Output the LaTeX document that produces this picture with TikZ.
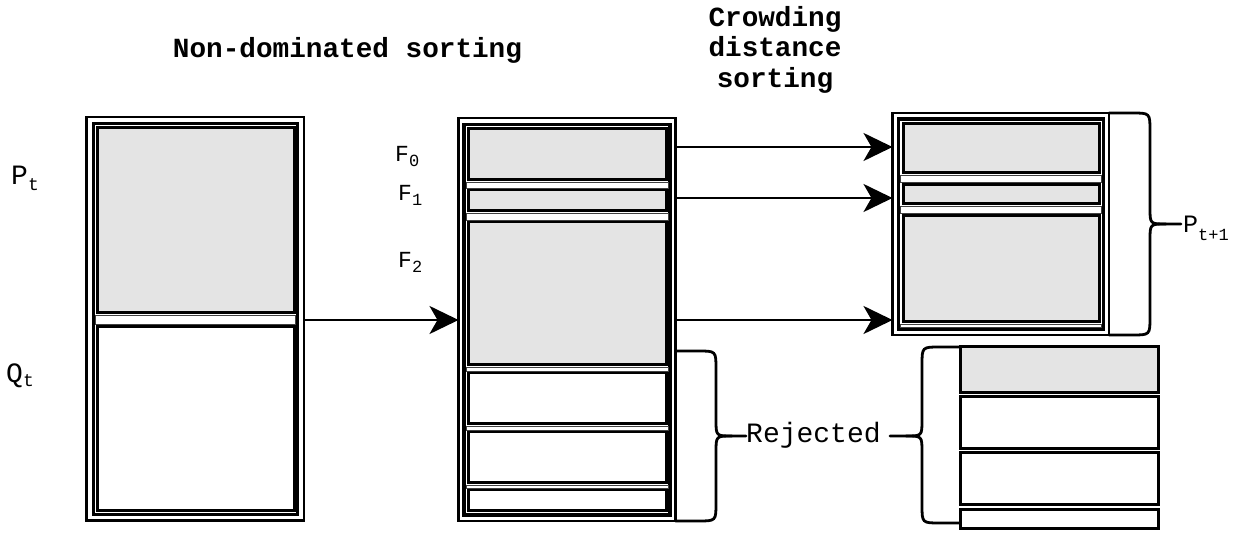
\documentclass[tikz,border=0pt]{standalone}
\usepackage{fontspec}
\setmainfont{Liberation Mono}
\usetikzlibrary{arrows.meta}
\definecolor{cellgray}{HTML}{E4E4E4}
\newcommand\rbox[6]{\node[#6, minimum width={#4-#2}, minimum height={#5-#3}] (#1) at ({(#2+#4)/2},{(#3+#5)/2}) {};}
\newcommand\sbs[3]{\raisebox{-#2pt}{\fontsize{#3}{#3}\selectfont #1}}
\begin{document}
\begin{tikzpicture}[x=1pt,y=-1pt,
  base/.style={rectangle, inner sep=0pt, outer sep=0pt},
  outerbox/.style={base, draw, line width=2.6pt},
  framebox/.style={base, draw, line width=3.5pt},
  cellg/.style={base, draw, line width=3pt, fill=cellgray},
  cellw/.style={base, draw, line width=3pt, fill=white},
  strip/.style={base, draw=gray!50!black, line width=0.8pt, fill=white},
  arr/.style={line width=2.6pt, -{Stealth[length=29pt,width=28pt,inset=8pt]}},
  brace/.style={line width=2.8pt, line cap=round},
  title/.style={font=\fontsize{27.7}{30.5}\selectfont\bfseries, inner sep=0pt, align=center},
  lbl/.style={inner sep=0pt}
]
\useasboundingbox (0,0) rectangle (1243,534);
% ---------- left column
\rbox{outerL}{86.5}{117}{304}{520.5}{outerbox}
\rbox{frameL}{93.5}{123.5}{297.5}{514.5}{framebox}
\rbox{Pcell}{97}{127.5}{294}{313}{cellg}
\rbox{sL1}{95.5}{315.5}{295.5}{324.5}{strip}
\rbox{Qcell}{97}{327}{294}{511}{cellw}
% ---------- middle column
\rbox{outerM}{458.5}{118}{675.5}{521}{outerbox}
\rbox{frameM}{464}{124.5}{670}{515}{framebox}
\rbox{F0cell}{468}{129}{666}{180}{cellg}
\rbox{F1cell}{468}{190}{666}{211}{cellg}
\rbox{F2cell}{468}{222}{666}{365}{cellg}
\rbox{W1cell}{468}{373}{666}{424}{cellw}
\rbox{W2cell}{468}{432}{666}{483}{cellw}
\rbox{W3cell}{468}{490}{666}{511}{cellw}
\rbox{sM1}{466}{182}{668}{188}{strip}
\rbox{sM2}{466}{213}{668}{220}{strip}
\rbox{sM3}{466}{367}{668}{371}{strip}
\rbox{sM4}{466}{426}{668}{430}{strip}
\rbox{sM5}{466}{485}{668}{488}{strip}
% ---------- right column (P_{t+1})
\rbox{outerR}{892.5}{113}{1109}{335}{outerbox}
\rbox{frameR}{898.5}{119}{1103.5}{329.5}{framebox}
\rbox{R1cell}{903}{123.5}{1099.5}{172.5}{cellg}
\rbox{R2cell}{903}{185}{1099.5}{204}{cellg}
\rbox{R3cell}{903}{216}{1099.5}{322}{cellg}
\rbox{sR1}{900.5}{175}{1101.5}{182}{strip}
\rbox{sR2}{900.5}{206.5}{1101.5}{213.5}{strip}
\rbox{sR3}{900.5}{324.5}{1101.5}{327}{strip}
% ---------- rejected column
\rbox{X1cell}{960}{347}{1158}{393}{cellg}
\rbox{X2cell}{960}{397}{1158}{449}{cellw}
\rbox{X3cell}{960}{453}{1158}{505}{cellw}
\rbox{X4cell}{960}{510}{1158}{528}{cellw}
% ---------- titles
\node[title, anchor=base] (t1) at (347.5,58) {Non-dominated sorting};
\node[title, anchor=north] (t2) at (775,6) {Crowding\\distance\\sorting};
% ---------- labels
\node[lbl, anchor=base west, font=\fontsize{28}{28}\selectfont] (Pt) at (11,185) {P\sbs{t}{6}{18}};
\node[lbl, anchor=base west, font=\fontsize{28}{28}\selectfont] (Qt) at (6,383) {Q\sbs{t}{4}{18}};
\node[lbl, anchor=base west, font=\fontsize{23}{23}\selectfont] (F0) at (395,162) {F\sbs{0}{5}{17}};
\node[lbl, anchor=base west, font=\fontsize{23}{23}\selectfont] (F1) at (398,201) {F\sbs{1}{5}{17}};
\node[lbl, anchor=base west, font=\fontsize{23}{23}\selectfont] (F2) at (398,268) {F\sbs{2}{5}{17}};
\node[lbl, anchor=base west, font=\fontsize{28}{28}\selectfont] (rej) at (746,443) {Rejected};
\node[lbl, anchor=base west, font=\fontsize{25}{25}\selectfont] (Pnext) at (1183,233) {P\sbs{t+1}{8}{17}};
% ---------- arrows
\draw[arr] (outerL.east |- 0,320) -- (outerM.west |- 0,320);
\draw[arr] (outerM.east |- 0,147) -- (outerR.west |- 0,147);
\draw[arr] (outerM.east |- 0,198) -- (outerR.west |- 0,198);
\draw[arr] (outerM.east |- 0,320) -- (outerR.west |- 0,320);
% ---------- braces
\coordinate (rejL) at (746,436);
\coordinate (rejR) at (890,436);
\coordinate (pnL) at (1181,224);
\draw[brace] (outerM.east |- 0,351) -- (698,351) .. controls (716,351) .. (716,369) -- (716,420)
  .. controls (716,436) .. (732,436) -- (rejL);
\draw[brace] (732,436) .. controls (716,436) .. (716,452) -- (716,503)
  .. controls (716,521) .. (698,521) -- (outerM.east |- 0,521);
\draw[brace] (outerR.east |- 0,113) -- (1132,113) .. controls (1150,113) .. (1150,131) -- (1150,208)
  .. controls (1150,224) .. (1166,224) -- (pnL);
\draw[brace] (1166,224) .. controls (1150,224) .. (1150,240) -- (1150,317)
  .. controls (1150,335) .. (1132,335) -- (outerR.east |- 0,335);
\draw[brace] (X1cell.north west) -- (940,347) .. controls (922,347) .. (922,365) -- (922,420)
  .. controls (922,436) .. (906,436) -- (rejR);
\draw[brace] (906,436) .. controls (922,436) .. (922,452) -- (922,505)
  .. controls (922,523) .. (940,523) -- (X4cell.west |- 0,523);
\end{tikzpicture}
\end{document}
